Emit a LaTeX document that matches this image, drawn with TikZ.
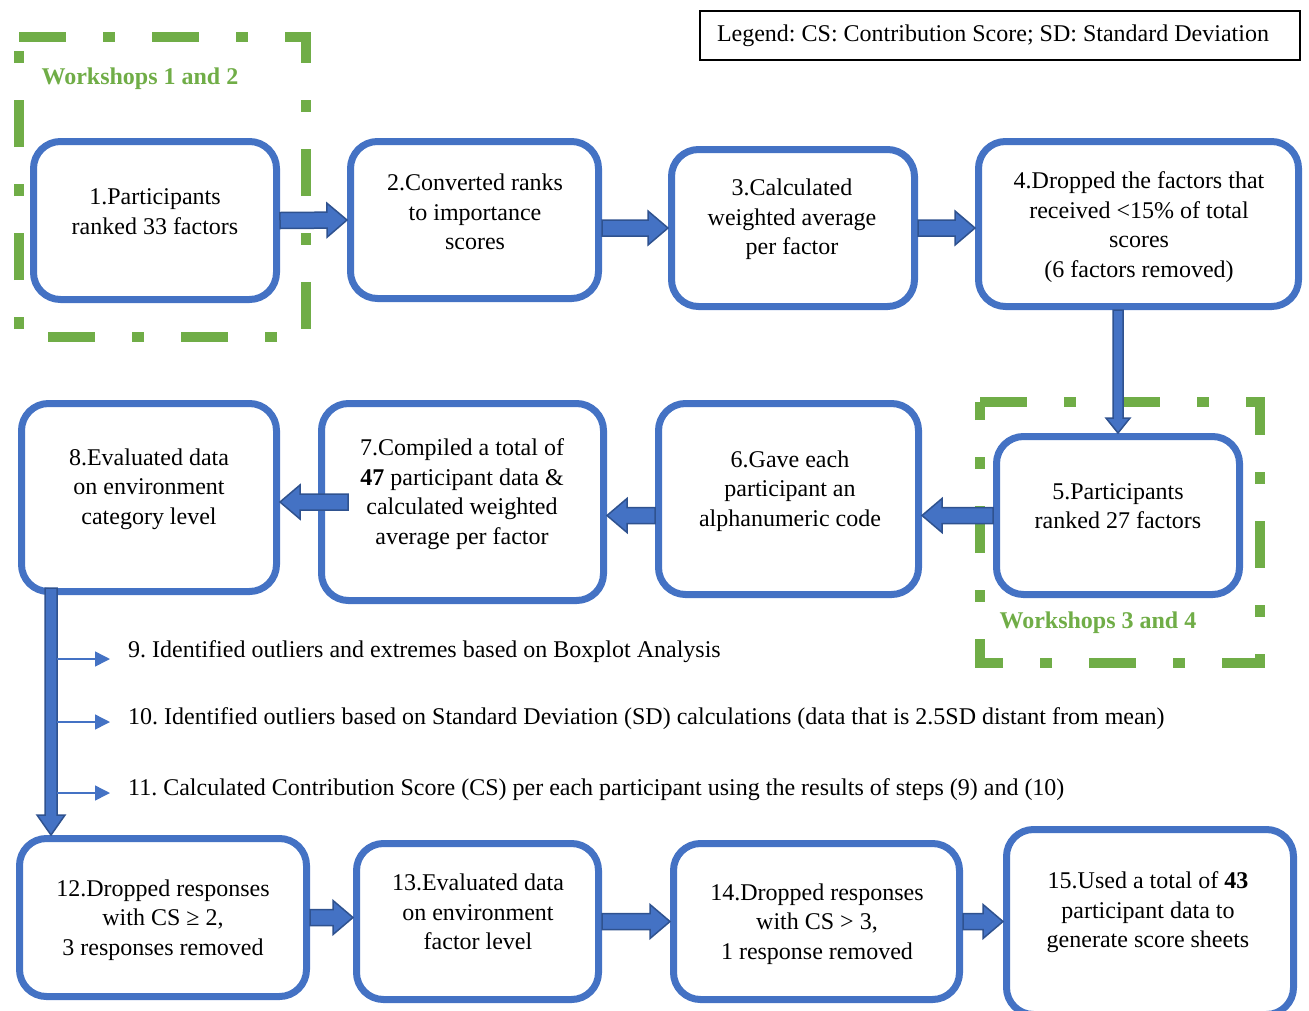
\documentclass[tikz,border=0pt]{standalone}
\usepackage{fontspec}
\setmainfont{Liberation Serif}
\usetikzlibrary{calc,arrows.meta}
\definecolor{boxblue}{HTML}{4472C4}
\definecolor{arrline}{HTML}{2F528F}
\definecolor{wsgreen}{HTML}{70AD47}
\frenchspacing
\newcommand\blockarrow[5]{%
  \coordinate (bahead) at ($(#2)!#5!(#1)$);
  \draw[blockarr] ($(#1)!#3!90:(#2)$) -- ($(bahead)!#3!-90:(#1)$) -- ($(bahead)!#4!-90:(#1)$) -- (#2) -- ($(bahead)!#4!90:(#1)$) -- ($(bahead)!#3!90:(#1)$) -- ($(#1)!#3!-90:(#2)$) -- cycle;%
}
\tikzset{
  stepbox/.style={draw=boxblue, line width=7pt, rounded corners=27pt, fill=white, inner sep=0pt},
  txt/.style={align=center, font=\fontsize{24}{29.5}\selectfont\frenchspacing, inner sep=0pt},
  wsframe/.style={draw=wsgreen, line width=10pt, dash pattern=on 47pt off 37pt on 12pt off 37pt},
  wslabel/.style={font=\fontsize{24}{29.5}\selectfont\bfseries, text=wsgreen, inner sep=0pt},
  blockarr/.style={fill=boxblue, draw=arrline, line width=1.5pt, line join=miter},
  thinarr/.style={draw=boxblue, line width=1.5pt, -{Triangle[length=15pt,width=15pt]}},
  legendbox/.style={draw=black, line width=2pt, minimum width=600pt, minimum height=49pt, inner xsep=17pt, inner ysep=0pt, font=\fontsize{24}{29.5}\selectfont\frenchspacing},
}
\begin{document}
\begin{tikzpicture}[x=1pt, y=-1pt]
\useasboundingbox (0,0) rectangle (1309,1010);

% workshop frames
\draw[wsframe] (19,37) -- (306,37) -- (306,337) -- (19,337) -- cycle;
\draw[wsframe] (980,402) -- (1260,402) -- (1260,663) -- (980,663) -- cycle;
\node[wslabel] (ws12) at (140,79) {Workshops 1 and 2};
\node[wslabel] (ws34) at (1098,623) {Workshops 3 and 4};

% legend
\node[legendbox] (leg) at (1000,35.5) {\makebox[566pt][l]{Legend: CS: Contribution Score; SD: Standard Deviation}};

% boxes
\node[stepbox, minimum width=243pt, minimum height=158pt] (b1) at (155,220.5) {};
\node[stepbox, minimum width=248pt, minimum height=157pt] (b2) at (474.5,220) {};
\node[stepbox, minimum width=243pt, minimum height=157pt] (b3) at (793,228) {};
\node[stepbox, minimum width=320pt, minimum height=165pt] (b4) at (1138.5,224) {};
\node[stepbox, minimum width=243pt, minimum height=158pt] (b5) at (1118,515.5) {};
\node[stepbox, minimum width=260pt, minimum height=191pt] (b6) at (788.5,499) {};
\node[stepbox, minimum width=282pt, minimum height=197pt] (b7) at (462.5,502) {};
\node[stepbox, minimum width=255pt, minimum height=188pt] (b8) at (149,497.5) {};
\node[stepbox, minimum width=287pt, minimum height=158pt] (b12) at (163,917.5) {};
\node[stepbox, minimum width=242pt, minimum height=156pt] (b13) at (477.5,921.5) {};
\node[stepbox, minimum width=286pt, minimum height=156pt] (b14) at (816.5,921.5) {};
\node[stepbox, minimum width=287pt, minimum height=185pt] (b15) at (1150,922) {};

% box texts
\node[txt] (t1) at (155,211.5) {1.Participants\\ranked 33 factors};
\node[txt] (t2) at (475,212) {2.Converted ranks\\to importance\\scores};
\node[txt] (t3) at (792,219.5) {3.Calculated\\weighted average\\per factor};
\node[txt] (t4) at (1139,227) {4.Dropped the factors that\\received <15\% of total\\scores\\(6 factors removed)};
\node[txt] (t5) at (1118,506) {5.Participants\\ranked 27 factors};
\node[txt] (t6) at (790,491) {6.Gave each\\participant an\\alphanumeric code};
\node[txt] (t7) at (462,494) {7.Compiled a total of\\\textbf{47} participant data \&\\calculated weighted\\average per factor};
\node[txt] (t8) at (149,489) {8.Evaluated data\\on environment\\category level};
\node[txt] (t12) at (163,920) {12.Dropped responses\\with CS ≥ 2,\\3 responses removed};
\node[txt] (t13) at (478,912) {13.Evaluated data\\on environment\\factor level};
\node[txt] (t14) at (817,924) {14.Dropped responses\\with CS > 3,\\1 response removed};
\node[txt] (t15) at (1148,912.5) {15.Used a total of \textbf{43}\\participant data to\\generate score sheets};

% step 9-11 texts
\node[txt, anchor=west] (t9) at (128,652) {9. Identified outliers and extremes based on Boxplot Analysis};
\node[txt, anchor=west] (t10) at (128,719) {10. Identified outliers based on Standard Deviation (SD) calculations (data that is 2.5SD distant from mean)};
\node[txt, anchor=west] (t11) at (128,790) {11. Calculated Contribution Score (CS) per each participant using the results of steps (9) and (10)};

% block arrows
\blockarrow{b1.east}{b2.west}{8pt}{17pt}{20pt}
\coordinate (a23s) at (b2.east |- b3.west);
\blockarrow{a23s}{b3.west}{8pt}{17pt}{20pt}
\coordinate (a34e) at (b4.west |- b3.east);
\blockarrow{b3.east}{a34e}{8pt}{17pt}{20pt}
\coordinate (a45s) at (b5.north |- b4.south);
\blockarrow{a45s}{b5.north}{5pt}{12pt}{15pt}
\coordinate (a56e) at (b6.east |- b5.west);
\blockarrow{b5.west}{a56e}{8pt}{17pt}{20pt}
\coordinate (a67s) at (b6.west |- b5.west);
\coordinate (a67e) at (b7.east |- b5.west);
\blockarrow{a67s}{a67e}{8pt}{17pt}{20pt}
\coordinate (a78s) at ([xshift=30pt]b7.west);
\coordinate (a78e) at (b8.east |- b7.west);
\blockarrow{a78s}{a78e}{8pt}{17pt}{20pt}
\coordinate (d8) at ([xshift=33pt, yshift=7pt]b8.south west);
\coordinate (d12) at (d8 |- b12.north);
\blockarrow{d8}{d12}{6pt}{14pt}{20pt}
\coordinate (a1213e) at (b13.west |- b12.east);
\blockarrow{b12.east}{a1213e}{8pt}{17pt}{20pt}
\blockarrow{b13.east}{b14.west}{8pt}{17pt}{20pt}
\coordinate (a1415e) at (b15.west |- b14.east);
\blockarrow{b14.east}{a1415e}{8pt}{17pt}{20pt}

% thin arrows to steps 9-11
\draw[thinarr] ($(d8 |- t9.west)+(6,7)$) -- ($(t9.west)+(-18,7)$);
\draw[thinarr] ($(d8 |- t10.west)+(6,3)$) -- ($(t10.west)+(-18,3)$);
\draw[thinarr] ($(d8 |- t11.west)+(6,3)$) -- ($(t11.west)+(-18,3)$);
\end{tikzpicture}
\end{document}
